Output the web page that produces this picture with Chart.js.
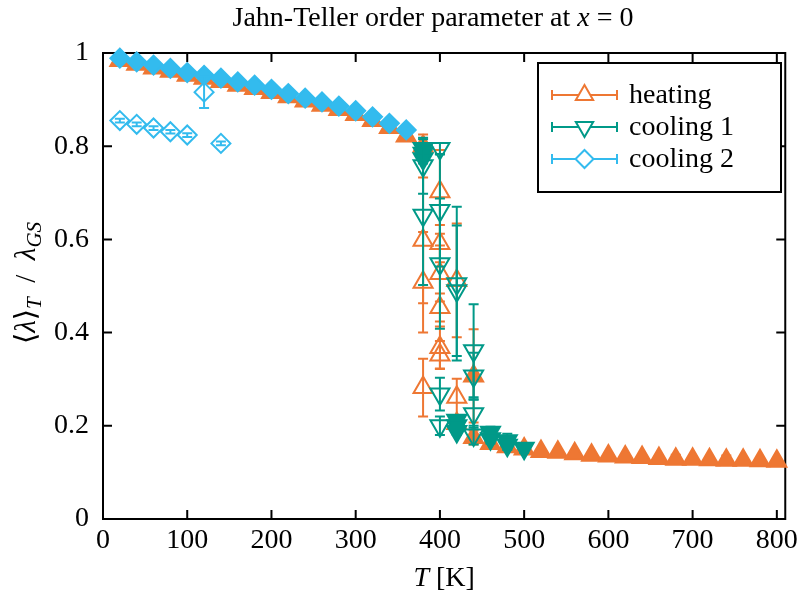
<!DOCTYPE html>
<html>
<head>
<meta charset="utf-8">
<script src="https://cdn.jsdelivr.net/npm/chart.js@4.4.0/dist/chart.umd.min.js"></script>
<style>
  body { margin: 0; background: #fff; }
</style>
</head>
<body>
<canvas id="grafico" width="803" height="597"></canvas>
<script>
// axis ticks
const xTicks = [0, 100, 200, 300, 400, 500, 600, 700, 800];
const yTicks = [0, 0.2, 0.4, 0.6, 0.8, 1];
const yTickLabels = ['0', '0.2', '0.4', '0.6', '0.8', '1'];

// heating, filled markers
const heatT   = [20, 40, 60, 80, 100, 120, 140, 160, 180, 200, 220, 240, 260, 280, 300, 320, 340, 360, 380,
                 420, 440, 440, 460, 480, 500,
                 520, 540, 560, 580, 600, 620, 640, 660, 680, 700, 720, 740, 760, 780, 800];
const heatVal = [0.984, 0.976, 0.968, 0.961, 0.952, 0.946, 0.939, 0.931, 0.924, 0.915, 0.906, 0.897, 0.888, 0.879, 0.868, 0.855, 0.840, 0.822, 0.800,
                 0.205, 0.307, 0.175, 0.162, 0.155, 0.150,
                 0.145, 0.143, 0.140, 0.137, 0.135, 0.133, 0.132, 0.130, 0.128, 0.128, 0.127, 0.126, 0.126, 0.125, 0.124];
const heatErr = [0.004, 0.004, 0.004, 0.004, 0.004, 0.004, 0.004, 0.004, 0.004, 0.004, 0.004, 0.004, 0.004, 0.004, 0.004, 0.005, 0.006, 0.008, 0.025,
                 0.015, 0.100, 0.015, 0.008, 0.006, 0.005,
                 0.004, 0.004, 0.004, 0.004, 0.004, 0.004, 0.004, 0.004, 0.010, 0.004, 0.004, 0.010, 0.004, 0.004, 0.004];
// heating, open markers (transition)
const heatOpenT   = [380, 380, 380, 400, 400, 400, 400, 400, 400, 420, 420];
const heatOpenVal = [0.598, 0.508, 0.282, 0.702, 0.591, 0.527, 0.454, 0.368, 0.352, 0.512, 0.261];
const heatOpenErr = [0.135, 0.108, 0.062, 0.090, 0.040, 0.060, 0.030, 0.045, 0.030, 0.122, 0.040];

// cooling 1, filled markers
const cool1T   = [380, 380, 380, 420, 420, 420, 460, 460, 480, 480, 500];
const cool1Val = [0.795, 0.785, 0.773, 0.212, 0.200, 0.188, 0.186, 0.172, 0.168, 0.158, 0.152];
const cool1Err = [0.020, 0.015, 0.010, 0.010, 0.010, 0.008, 0.012, 0.010, 0.015, 0.010, 0.010];
// cooling 1, open markers
const cool1OpenT   = [380, 380, 400, 400, 400, 400, 400, 420, 420, 440, 440, 440, 440];
const cool1OpenVal = [0.758, 0.652, 0.795, 0.662, 0.548, 0.268, 0.200, 0.505, 0.490, 0.361, 0.307, 0.226, 0.180];
const cool1OpenErr = [0.060, 0.150, 0.012, 0.120, 0.140, 0.035, 0.020, 0.165, 0.140, 0.100, 0.050, 0.030, 0.020];

// cooling 2, filled markers
const cool2T   = [20, 40, 60, 80, 100, 120, 140, 160, 180, 200, 220, 240, 260, 280, 300, 320, 340, 360];
const cool2Val = [0.989, 0.981, 0.974, 0.967, 0.958, 0.952, 0.946, 0.938, 0.931, 0.922, 0.913, 0.903, 0.895, 0.886, 0.876, 0.863, 0.849, 0.835];
const cool2Err = [0.004, 0.004, 0.004, 0.004, 0.004, 0.004, 0.004, 0.004, 0.004, 0.004, 0.004, 0.004, 0.004, 0.004, 0.004, 0.004, 0.005, 0.006];
// cooling 2, open markers (lower branch)
const cool2OpenT   = [20, 40, 60, 80, 100, 120, 140];
const cool2OpenVal = [0.855, 0.847, 0.839, 0.831, 0.824, 0.916, 0.806];
const cool2OpenErr = [0.004, 0.004, 0.004, 0.004, 0.004, 0.034, 0.004];

const naranja = '#EE7733';
const verde = '#009988';
const celeste = '#33BBEE';
const serif = '"Liberation Serif", "DejaVu Serif", serif';

function puntos(ts, vals, errs) {
  return ts.map((t, i) => ({ x: t, y: vals[i], err: errs[i] }));
}

function serie(label, ts, vals, errs, color, filled, style, radius, rot, order) {
  return {
    label: label,
    data: puntos(ts, vals, errs),
    showLine: false,
    pointStyle: style,
    pointRadius: radius,
    pointHoverRadius: radius,
    pointRotation: rot,
    pointBorderWidth: 2,
    borderColor: color,
    backgroundColor: filled ? color : 'rgba(0,0,0,0)',
    clip: false,
    order: order
  };
}

// error bars drawn just before each dataset so markers sit on top
const barrasError = {
  id: 'barrasError',
  beforeDatasetDraw(chart, args) {
    const ds = chart.data.datasets[args.index];
    const xs = chart.scales.x, ys = chart.scales.y;
    const ctx = chart.ctx;
    ctx.save();
    ctx.strokeStyle = ds.borderColor;
    ctx.lineWidth = 2;
    ds.data.forEach(p => {
      const px = xs.getPixelForValue(p.x);
      const arriba = ys.getPixelForValue(p.y + p.err);
      const abajo = ys.getPixelForValue(p.y - p.err);
      ctx.beginPath();
      ctx.moveTo(px, arriba); ctx.lineTo(px, abajo);
      ctx.moveTo(px - 5, arriba); ctx.lineTo(px + 5, arriba);
      ctx.moveTo(px - 5, abajo); ctx.lineTo(px + 5, abajo);
      ctx.stroke();
    });
    ctx.restore();
  }
};

// frame with inward ticks on all sides
const marco = {
  id: 'marco',
  beforeDatasetsDraw(chart) {
    const a = chart.chartArea, ctx = chart.ctx;
    const xs = chart.scales.x, ys = chart.scales.y;
    ctx.save();
    ctx.strokeStyle = '#000';
    ctx.lineWidth = 2;
    ctx.strokeRect(a.left, a.top, a.right - a.left, a.bottom - a.top);
    ctx.beginPath();
    xTicks.forEach(v => {
      const px = xs.getPixelForValue(v);
      ctx.moveTo(px, a.bottom); ctx.lineTo(px, a.bottom - 9);
      ctx.moveTo(px, a.top); ctx.lineTo(px, a.top + 9);
    });
    yTicks.forEach(v => {
      const py = ys.getPixelForValue(v);
      ctx.moveTo(a.left, py); ctx.lineTo(a.left + 9, py);
      ctx.moveTo(a.right, py); ctx.lineTo(a.right - 9, py);
    });
    ctx.stroke();
    ctx.restore();
  }
};

function textoMixto(ctx, trozos, x, y) {
  let total = 0;
  trozos.forEach(t => { ctx.font = t.f; total += ctx.measureText(t.t).width; });
  let cx = x - total / 2;
  ctx.textAlign = 'left';
  ctx.textBaseline = 'alphabetic';
  trozos.forEach(t => {
    ctx.font = t.f;
    ctx.fillText(t.t, cx, y + (t.dy || 0));
    cx += ctx.measureText(t.t).width;
  });
}

function marcador(ctx, tipo, x, y, color) {
  ctx.save();
  ctx.strokeStyle = color;
  ctx.fillStyle = '#fff';
  ctx.lineWidth = 2;
  ctx.beginPath();
  if (tipo === 'up') {
    const r = 10;
    ctx.moveTo(x, y - r);
    ctx.lineTo(x + r * 0.866, y + r / 2);
    ctx.lineTo(x - r * 0.866, y + r / 2);
  } else if (tipo === 'down') {
    const r = 10;
    ctx.moveTo(x, y + r);
    ctx.lineTo(x + r * 0.866, y - r / 2);
    ctx.lineTo(x - r * 0.866, y - r / 2);
  } else {
    const r = 9;
    ctx.moveTo(x, y - r); ctx.lineTo(x + r, y); ctx.lineTo(x, y + r); ctx.lineTo(x - r, y);
  }
  ctx.closePath();
  ctx.fill();
  ctx.stroke();
  ctx.restore();
}

const leyendaItems = [
  { txt: 'heating', color: naranja, tipo: 'up' },
  { txt: 'cooling 1', color: verde, tipo: 'down' },
  { txt: 'cooling 2', color: celeste, tipo: 'diamond' }
];

const textos = {
  id: 'textos',
  afterDraw(chart) {
    const ctx = chart.ctx, a = chart.chartArea;
    const cx = (a.left + a.right) / 2;
    ctx.save();
    ctx.fillStyle = '#000';
    // title
    textoMixto(ctx, [
      { t: 'Jahn-Teller order parameter at ', f: '28px ' + serif },
      { t: 'x', f: 'italic 28px ' + serif },
      { t: ' = 0', f: '28px ' + serif }
    ], 433, 26);
    // x label
    textoMixto(ctx, [
      { t: 'T', f: 'italic 28px ' + serif },
      { t: ' [K]', f: '28px ' + serif }
    ], cx, 586);
    // y label
    ctx.save();
    ctx.translate(35, 283);
    ctx.rotate(-Math.PI / 2);
    textoMixto(ctx, [
      { t: '\u27E8', f: '29px ' + serif },
      { t: '\u03BB', f: 'italic 29px ' + serif },
      { t: '\u27E9', f: '29px ' + serif },
      { t: 'T', f: 'italic 21px ' + serif, dy: 6 },
      { t: '\u2002/\u2002', f: '29px ' + serif },
      { t: '\u03BB', f: 'italic 29px ' + serif },
      { t: 'GS', f: 'italic 21px ' + serif, dy: 6 }
    ], 0, 0);
    ctx.restore();

    // legend box
    ctx.strokeStyle = '#000';
    ctx.lineWidth = 2;
    ctx.fillStyle = '#fff';
    ctx.fillRect(538, 63, 243, 129);
    ctx.strokeRect(538, 63, 243, 129);
    leyendaItems.forEach((it, i) => {
      const y = 95 + i * 32;
      ctx.strokeStyle = it.color;
      ctx.lineWidth = 2;
      ctx.beginPath();
      ctx.moveTo(552, y); ctx.lineTo(617, y);
      ctx.moveTo(552, y - 5); ctx.lineTo(552, y + 5);
      ctx.moveTo(617, y - 5); ctx.lineTo(617, y + 5);
      ctx.stroke();
      marcador(ctx, it.tipo, 584.5, y, it.color);
      ctx.fillStyle = '#000';
      ctx.font = '28px ' + serif;
      ctx.textAlign = 'left';
      ctx.textBaseline = 'middle';
      ctx.fillText(it.txt, 629, y + 1);
    });
    ctx.restore();
  }
};

const ctx = document.getElementById('grafico').getContext('2d');
const miGrafico = new Chart(ctx, {
  type: 'scatter',
  data: {
    datasets: [
      serie('heating', heatT, heatVal, heatErr, naranja, true, 'triangle', 11, 0, 6),
      serie('heating', heatOpenT, heatOpenVal, heatOpenErr, naranja, false, 'triangle', 11, 0, 5),
      serie('cooling 1', cool1T, cool1Val, cool1Err, verde, true, 'triangle', 11, 180, 4),
      serie('cooling 1', cool1OpenT, cool1OpenVal, cool1OpenErr, verde, false, 'triangle', 11, 180, 3),
      serie('cooling 2', cool2T, cool2Val, cool2Err, celeste, true, 'rectRot', 9.5, 0, 2),
      serie('cooling 2', cool2OpenT, cool2OpenVal, cool2OpenErr, celeste, false, 'rectRot', 9.5, 0, 1)
    ]
  },
  options: {
    responsive: false,
    animation: false,
    devicePixelRatio: 1,
    layout: { padding: { left: 0, right: 12, top: 53, bottom: 0 } },
    plugins: {
      legend: { display: false },
      tooltip: { enabled: false }
    },
    scales: {
      x: {
        type: 'linear',
        min: 0,
        max: 810,
        afterBuildTicks: s => { s.ticks = xTicks.map(v => ({ value: v })); },
        afterFit: s => { s.height = 78; },
        grid: { display: false, drawTicks: false },
        border: { display: false },
        ticks: { color: '#000', padding: 5, maxRotation: 0, font: { family: serif, size: 28 } }
      },
      y: {
        type: 'linear',
        min: 0,
        max: 1,
        afterBuildTicks: s => { s.ticks = yTicks.map(v => ({ value: v })); },
        afterFit: s => { s.width = 103; },
        grid: { display: false, drawTicks: false },
        border: { display: false },
        ticks: {
          color: '#000', padding: 14, font: { family: serif, size: 28 },
          callback: (v, i) => yTickLabels[i]
        }
      }
    }
  },
  plugins: [barrasError, marco, textos]
});
</script>
</body>
</html>
